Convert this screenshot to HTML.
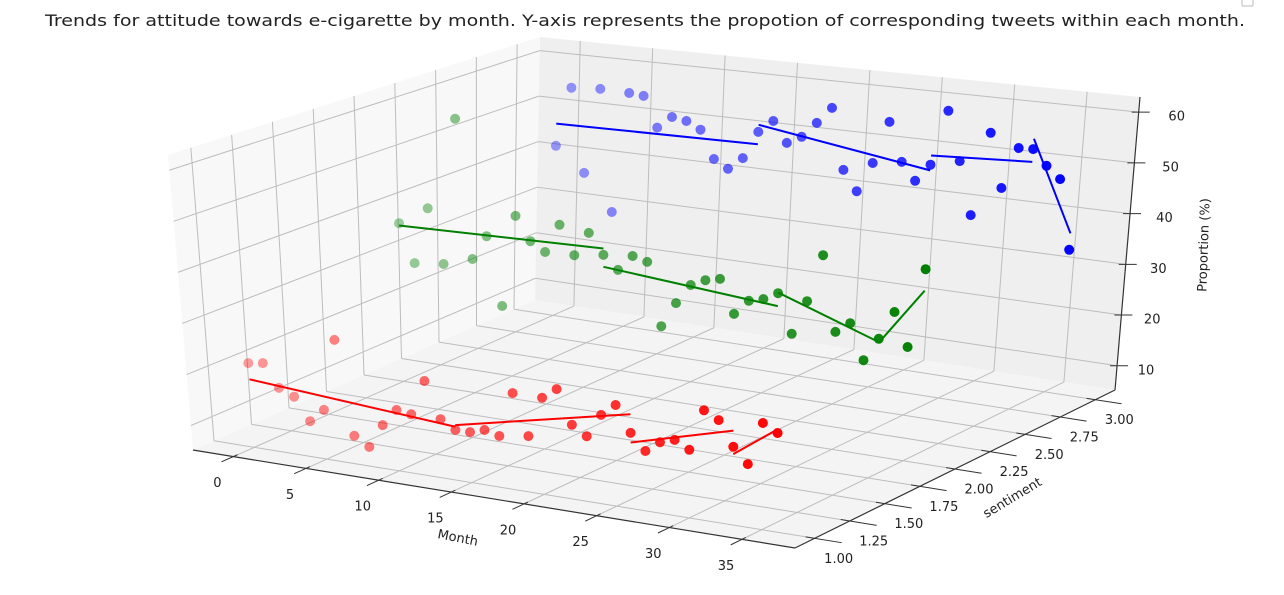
<!DOCTYPE html>
<html><head><meta charset="utf-8">
<style>
html,body{margin:0;padding:0;background:#fff;}
svg{display:block;font-family:"DejaVu Sans","Liberation Sans",sans-serif;}
</style></head>
<body>
<svg id="chart" width="1284" height="595" viewBox="0 0 1284 595" xmlns="http://www.w3.org/2000/svg">
<text x="645" y="26" text-anchor="middle" font-size="16" fill="#222" textLength="1200" lengthAdjust="spacingAndGlyphs">Trends for attitude towards e-cigarette by month. Y-axis represents the propotion of corresponding tweets within each month.</text>
<rect x="1242" y="-4" width="11" height="10" fill="none" stroke="#bbb" rx="1"/>
<g id="panes"></g>
<g id="grid"></g>
<g id="axes"></g>
<g id="marks"></g>
<text x="458" y="542" text-anchor="middle" font-size="13" fill="#222" transform="rotate(11 458 537)">Month</text>
<text x="1012" y="502" text-anchor="middle" font-size="13" fill="#222" transform="rotate(-31 1012 497)">sentiment</text>
<text x="1203" y="250" text-anchor="middle" font-size="13" fill="#222" transform="rotate(-88 1203 245)">Proportion (%)</text>
</svg>
<script>
// ---- data ----
const months = [0,1,2,3,4,5,6,7,8,9,10,11,12,13,14,15,16,17,18,19,20,21,22,23,24,25,26,27,28,29,30,31,32,33,34,35,36];
const negValues = [21.7,22.1,17.7,16.4,12.1,14.7,28.6,10.6,8.9,13.5,16.8,16.4,23.1,16.3,14.7,14.7,15.5,14.8,23.2,15.6,23.1,25.1,18.9,17.2,21.5,23.7,19.0,16.1,18.1,18.9,17.5,25.0,23.6,19.2,16.5,24.2,22.8];
const neuValues = [37.7,29.9,41.5,30.5,60.4,32.3,37.3,23.6,42.1,37.4,35.6,41.4,35.7,40.5,36.5,33.9,37.0,36.2,24.0,28.9,32.8,34.1,34.7,28.3,31.2,31.9,33.4,26.0,32.6,41.7,27.5,29.5,22.9,27.3,32.7,26.5,41.4];
const posValues = [41.9,54.8,36.8,55.2,29.2,55.0,54.7,48.3,50.9,50.4,48.9,43.1,41.4,44.0,49.8,52.4,48.2,49.8,53.0,56.4,44.0,40.0,46.1,54.8,47.0,43.5,47.1,58.3,48.5,38.0,54.8,44.1,52.4,52.5,49.5,47.2,33.6];
const sentiments = [1,2,3];
const segStarts = [0,14,26,33];
const segEnds = [14,26,33,36];
const xTicks = [0,5,10,15,20,25,30,35];
const yTicks = [1.00,1.25,1.50,1.75,2.00,2.25,2.50,2.75,3.00];
const zTicks = [10,20,30,40,50,60];

// ---- projection (axis functions) ----
const XMIN=-2.78, XMAX=38.65, YMIN=0.86, YMAX=3.14, ZMIN=5.22, ZMAX=62.99;
const A=[193,450],B=[795,548],C=[1115,390],D=[535,300];
const E=[168,155],H=[800,218],G=[1140,97],F=[540,37];
function bil(p00,p10,p11,p01,u,v){
  return [p00[0]*(1-u)*(1-v)+p10[0]*u*(1-v)+p11[0]*u*v+p01[0]*(1-u)*v,
          p00[1]*(1-u)*(1-v)+p10[1]*u*(1-v)+p11[1]*u*v+p01[1]*(1-u)*v];
}
function projUVW(u,v,w){
  const f=bil(A,B,C,D,u,v), t=bil(E,H,G,F,u,v);
  return [f[0]+w*(t[0]-f[0]), f[1]+w*(t[1]-f[1])];
}
function xu(m){return (m-XMIN)/(XMAX-XMIN);}
function yv(s){return (s-YMIN)/(YMAX-YMIN);}
function zw(z){return (z-ZMIN)/(ZMAX-ZMIN);}
function proj(m,s,z){return projUVW(xu(m),yv(s),zw(z));}

const NS="http://www.w3.org/2000/svg";
function mk(tag,parent,attrs){const el=document.createElementNS(NS,tag);for(const k in attrs)el.setAttribute(k,attrs[k]);parent.appendChild(el);return el;}
function pts(arr){return arr.map(p=>p[0].toFixed(1)+","+p[1].toFixed(1)).join(" ");}

const panes=document.getElementById('panes');
let el;
el=mk('polygon',panes,{points:pts([A,D,F,E]),fill:'#f8f8f8',stroke:'none'});


el=mk('polygon',panes,{points:pts([D,C,G,F]),fill:'#efefef',stroke:'none'});


el=mk('polygon',panes,{points:pts([A,B,C,D]),fill:'#f4f4f4',stroke:'none'});



const grid=document.getElementById('grid');
function gline(p,q,name){
  const l=mk('line',grid,{x1:p[0],y1:p[1],x2:q[0],y2:q[1],stroke:'#bdbdbd','stroke-width':1});
  
  
}
xTicks.forEach(m=>{
  const u=xu(m);
  gline(projUVW(u,0,0),projUVW(u,1,0),'floor-grid-month');
  gline(projUVW(u,1,0),projUVW(u,1,1),'back-grid-month');
});
yTicks.forEach(s=>{
  const v=yv(s);
  gline(projUVW(0,v,0),projUVW(1,v,0),'floor-grid-sentiment');
  gline(projUVW(0,v,0),projUVW(0,v,1),'left-grid-sentiment');
});
zTicks.forEach(z=>{
  const w=zw(z);
  gline(projUVW(0,0,w),projUVW(0,1,w),'left-grid-proportion');
  gline(projUVW(0,1,w),projUVW(1,1,w),'back-grid-proportion');
});

const axes=document.getElementById('axes');
function aline(p,q,name,wd){
  const l=mk('line',axes,{x1:p[0],y1:p[1],x2:q[0],y2:q[1],stroke:'#333','stroke-width':wd||1.2});
  
  
}
function atext(x,y,str,name){
  const t=mk('text',axes,{x:x,y:y,'text-anchor':'middle','font-size':13,fill:'#222','dominant-baseline':'middle'});
  t.textContent=str;
  
  
}
aline(A,B,'x-axis-line');
aline(B,C,'y-axis-line');
aline(C,G,'z-axis-line');
xTicks.forEach(m=>{
  const u=xu(m);
  const p=projUVW(u,0.012,0), q=projUVW(u,-0.035,0);
  aline(p,q,'x-tick',1);
  const b=projUVW(u,0,0);
  atext(b[0]-16,b[1]+27,String(m),'x-tick-label');
});
yTicks.forEach(s=>{
  const v=yv(s);
  const p=projUVW(0.985,v,0), q=projUVW(1.045,v,0);
  aline(p,q,'y-tick',1);
  const b=projUVW(1,v,0);
  atext(b[0]+24,b[1]+21,s.toFixed(2),'y-tick-label');
});
zTicks.forEach(z=>{
  const b=projUVW(1,1,zw(z));
  aline([b[0]-7,b[1]],[b[0]+11,b[1]],'z-tick',1);
  atext(b[0]+29+9*(z-10)/50,b[1]+5,String(z),'z-tick-label');
});

const marks=document.getElementById('marks');
const seriesVals=[negValues,neuValues,posValues];
const colors=['#ff0000','#008000','#0000ff'];
const sNames=['negative','neutral','positive'];
function regress(vals,a,b){
  let n=0,sx=0,sy=0,sxx=0,sxy=0;
  for(let i=0;i<months.length;i++){const m=months[i];if(m<a||m>b)continue;n++;sx+=m;sy+=vals[i];sxx+=m*m;sxy+=m*vals[i];}
  const sl=(n*sxy-sx*sy)/(n*sxx-sx*sx);const ic=(sy-sl*sx)/n;return [sl,ic];
}
seriesVals.forEach((vals,si)=>{
  const s=sentiments[si];
  const g=mk('g',marks,{});
  
  
  const mMin=Math.min(...months), mMax=Math.max(...months);
  months.forEach((m,i)=>{
    const p=proj(m,s,vals[i]);
    const t=(m-mMin)/(mMax-mMin);
    const c=mk('circle',g,{cx:p[0].toFixed(1),cy:p[1].toFixed(1),r:5,fill:colors[si],'fill-opacity':(0.38+0.62*t).toFixed(2)});
    
    
  });
  segStarts.forEach((a,k)=>{
    const b=segEnds[k];
    const r=regress(vals,a,b);
    const p=proj(a,s,r[1]+r[0]*a), q=proj(b,s,r[1]+r[0]*b);
    const l=mk('line',g,{x1:p[0],y1:p[1],x2:q[0],y2:q[1],stroke:colors[si],'stroke-width':2});
    
    
  });
});
</script>
</body></html>
